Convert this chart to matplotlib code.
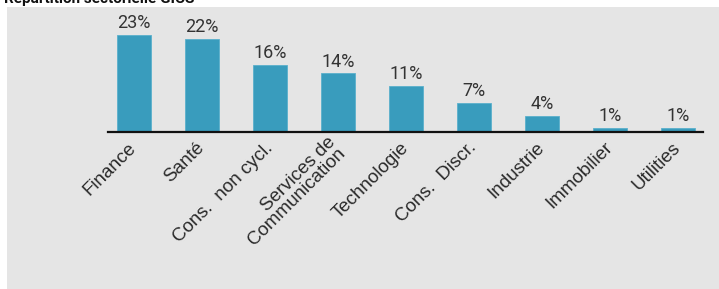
import matplotlib.pyplot as plt
import matplotlib.patches as mpatches

# === Data ===
secteurs = ['Finance', 'Santé', 'Cons.  non cycl.', 'Services de\nCommunication',
            'Technologie', 'Cons.  Discr.', 'Industrie', 'Immobilier', 'Utilities']
poids = [23.0, 22.0, 16.0, 13.9, 10.9, 6.9, 3.9, 0.9, 0.9]
etiquettes = ['23%', '22%', '16%', '14%', '11%', '7%', '4%', '1%', '1%']

W, H = 719, 289
fig = plt.figure(figsize=(W / 100, H / 100), dpi=100)
fig.patch.set_facecolor('white')

# panneau gris de fond
fig.patches.append(mpatches.Rectangle((7 / W, 0), 1 - 7 / W, (H - 7) / H,
                                      transform=fig.transFigure,
                                      facecolor='#e5e5e5', edgecolor='none', zorder=0))

# titre (coupé en haut comme sur l'original)
fig.text(4 / W, (H - 3.5) / H, 'Répartition sectorielle GICS', fontsize=11,
         fontweight='bold', family='Roboto', va='baseline', ha='left', color='#111111')

# axes: ligne de base à y=132 px, x de 108 à 703 px
base = 132
top = 20
ax = fig.add_axes([108 / W, (H - base) / H, (703 - 108) / W, (base - top) / H])
ax.set_facecolor('none')
ax.set_zorder(2)

x = list(range(len(secteurs)))
ax.bar(x, poids, width=0.5, color='#399cbd', edgecolor='#5ab0cc', linewidth=0.6, zorder=2)
ax.set_xlim(-0.382, 8.368)
ax.set_ylim(0, 23.0 * (base - top) / 97)

for xi, v, lab in zip(x, poids, etiquettes):
    ax.annotate(lab, (xi, v), xytext=(0, 2), textcoords='offset points',
                ha='center', va='bottom', fontsize=13, family='Roboto',
                color='#333333')

for s in ['top', 'right', 'left']:
    ax.spines[s].set_visible(False)
ax.spines['bottom'].set_linewidth(1.6)
ax.spines['bottom'].set_color('#111111')
ax.set_yticks([])
ax.set_xticks(x)
ax.set_xticklabels(secteurs, rotation=45, ha='right', va='center',
                   rotation_mode='anchor', fontsize=13.5,
                   family='Liberation Sans', color='#2a2a2a',
                   multialignment='right', linespacing=0.85)
ax.tick_params(axis='x', length=0, pad=9.5)

fig.savefig('out.png', dpi=100)
